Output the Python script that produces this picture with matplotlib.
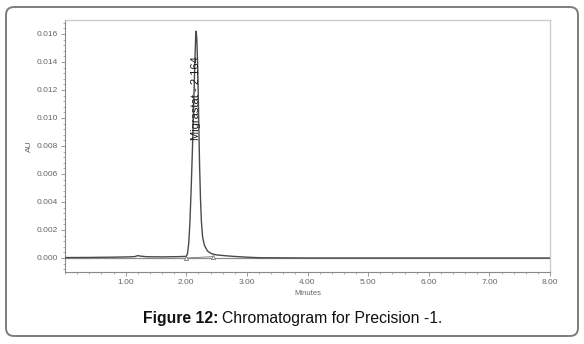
"""Chromatogram for Precision -1 (Figure 12)."""

import matplotlib

matplotlib.use("Agg")

import matplotlib.pyplot as plt
from matplotlib.patches import FancyBboxPatch
from matplotlib.ticker import FixedLocator, FormatStrFormatter, MultipleLocator

plt.rcParams["font.family"] = ["Liberation Sans", "DejaVu Sans"]

# Detector trace (minutes, AU)
minutes = [
    0.00, 0.40, 0.80, 1.05, 1.15, 1.20, 1.25, 1.35, 1.60, 1.90, 2.00,
    2.02, 2.04, 2.06, 2.08, 2.10, 2.12, 2.14, 2.155, 2.164, 2.175, 2.19,
    2.20, 2.21, 2.22, 2.235, 2.25, 2.27, 2.30, 2.35, 2.42, 2.50, 2.65,
    2.80, 3.00, 3.20, 4.00, 5.00, 6.00, 7.00, 8.00,
]
absorbance = [
    0.00003, 0.00004, 0.00006, 0.00008, 0.00010, 0.00017, 0.00013, 0.00009,
    0.00008, 0.00010, 0.00012,
    0.00030, 0.00100, 0.00250, 0.00480, 0.00750, 0.01050, 0.01370, 0.01580,
    0.01620, 0.01560, 0.01350,
    0.01120, 0.00880, 0.00660, 0.00420, 0.00260, 0.00150, 0.00090, 0.00050,
    0.00030, 0.00022, 0.00016,
    0.00011, 0.00006, 0.00002, 0.00000, 0.00000, 0.00000, 0.00000, 0.00000,
]
peak_name = "Migrastat - 2.164"
peak_time = 2.164
peak_bounds = [2.00, 2.44]
peak_bounds_au = [0.00000, 0.00010]

x_ticks = [1, 2, 3, 4, 5, 6, 7, 8]
y_ticks = [0.000, 0.002, 0.004, 0.006, 0.008, 0.010, 0.012, 0.014, 0.016]

_INK = "#1a1a1a"
_TRACE = "#4a4a4a"
_TICK_INK = "#666666"
_FRAME = "#cccccc"
_AXIS = "#8a8a8a"

W, H = 584, 344
fig = plt.figure(figsize=(W / 100, H / 100), dpi=100, facecolor="white")

# rounded outer border, in pixel-like coordinates
bg = fig.add_axes([0, 0, 1, 1])
bg.set_xlim(0, W)
bg.set_ylim(0, H)
bg.axis("off")
bg.add_patch(FancyBboxPatch(
    (6, 8), 572, 329, boxstyle="round,pad=0,rounding_size=8",
    facecolor="white", edgecolor="#7d7d7d", linewidth=1.4,
))

ax = fig.add_axes([65 / W, 1 - 272 / H, 485 / W, 252 / H])
ax.set_facecolor("white")
ax.set_xlim(0, 8)
ax.set_ylim(-0.001, 0.017)

for side in ("top", "right"):
    ax.spines[side].set_color(_FRAME)
    ax.spines[side].set_linewidth(1.0)
for side in ("left", "bottom"):
    ax.spines[side].set_color(_AXIS)
    ax.spines[side].set_linewidth(0.8)

ax.axhline(0, color="#8c8c8c", linewidth=0.9, zorder=1)
ax.plot(minutes, absorbance, color=_TRACE, linewidth=1.0, zorder=3)
ax.plot(peak_bounds, peak_bounds_au, color="#777777", linewidth=0.6, zorder=2)
ax.plot(peak_bounds, peak_bounds_au, linestyle="none", marker="^", markersize=3,
        markerfacecolor="white", markeredgecolor="#777777", markeredgewidth=0.6,
        zorder=4)

ax.text(peak_time, 0.0084, peak_name, rotation=90, ha="center", va="bottom",
        fontsize=8, color=_INK, zorder=5)

ax.xaxis.set_major_locator(FixedLocator(x_ticks))
ax.xaxis.set_minor_locator(MultipleLocator(0.2))
ax.xaxis.set_major_formatter(FormatStrFormatter("%.2f"))
ax.yaxis.set_major_locator(FixedLocator(y_ticks))
ax.yaxis.set_minor_locator(MultipleLocator(0.0004))
ax.yaxis.set_major_formatter(FormatStrFormatter("%.3f"))
ax.tick_params(which="major", length=3, width=0.6, color=_AXIS,
               labelcolor=_TICK_INK, labelsize=6, pad=2)
ax.tick_params(which="minor", length=1.5, width=0.5, color=_AXIS)

ax.set_xlabel("Minutes", fontsize=5.5, color=_TICK_INK, labelpad=3)
ax.set_ylabel("AU", fontsize=6, color=_TICK_INK, labelpad=3)

# caption: bold prefix followed by regular text
renderer = fig.canvas.get_renderer()
bold = fig.text(143 / W, 1 - 318 / H, "Figure 12:", fontsize=11.3, fontweight="bold",
                color="#111111", ha="left", va="center")
ext = bold.get_window_extent(renderer)
fig.text((ext.x1 + 4) / W, 1 - 318 / H, "Chromatogram for Precision -1.",
         fontsize=11.3, color="#111111", ha="left", va="center")

fig.savefig("out.png", dpi=100, facecolor="white")
